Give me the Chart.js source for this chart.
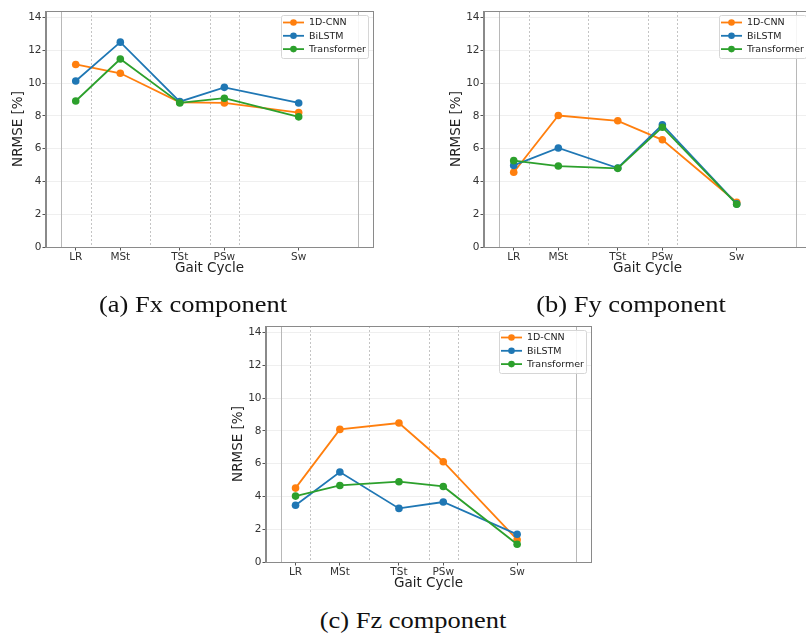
<!DOCTYPE html>
<html>
<head>
<meta charset="utf-8">
<script src="https://cdn.jsdelivr.net/npm/chart.js@4.4.0/dist/chart.umd.min.js"></script>
<style>
  html, body { margin: 0; padding: 0; background: #fff; }
  body { width: 806px; height: 637px; overflow: hidden; position: relative; }
  canvas { position: absolute; }
  .cap {
    position: absolute; font-family: "Liberation Serif", "Times New Roman", serif;
    font-size: 23px; line-height: 23px; color: #111; white-space: nowrap;
    transform: translateX(-50%) scaleX(1.15);
  }
</style>
</head>
<body>
<canvas id="chartFx" width="380" height="285" style="left:0px;top:0px;width:380px;height:285px"></canvas>
<canvas id="chartFy" width="380" height="285" style="left:438px;top:0px;width:380px;height:285px"></canvas>
<canvas id="chartFz" width="378" height="285" style="left:220px;top:315px;width:378px;height:285px"></canvas>
<div class="cap" style="left:193px;top:293px">(a) Fx component</div>
<div class="cap" style="left:631px;top:293px">(b) Fy component</div>
<div class="cap" style="left:413px;top:609px">(c) Fz component</div>
<script>
// gait phases (x in % of gait cycle)
const phaseLabels = ['LR', 'MSt', 'TSt', 'PSw', 'Sw'];
const phaseCenters = [5, 20, 40, 55, 80];
const phaseBounds = [10, 30, 50, 60];
const cycleEnds = [0, 100];
const yTickValues = [0, 2, 4, 6, 8, 10, 12, 14];

const modelNames = ['1D-CNN', 'BiLSTM', 'Transformer'];
const modelColors = ['#ff7f0e', '#1f77b4', '#2ca02c'];

// NRMSE [%] per phase
const fxCnn = [11.14, 10.60, 8.83, 8.79, 8.20];
const fxBilstm = [10.13, 12.50, 8.87, 9.74, 8.79];
const fxTransformer = [8.91, 11.47, 8.79, 9.08, 7.94];

const fyCnn = [4.56, 8.02, 7.70, 6.54, 2.73];
const fyBilstm = [4.98, 6.04, 4.82, 7.46, 2.63];
const fyTransformer = [5.27, 4.94, 4.80, 7.31, 2.61];

const fzCnn = [4.51, 8.09, 8.48, 6.12, 1.36];
const fzBilstm = [3.46, 5.49, 3.27, 3.66, 1.69];
const fzTransformer = [4.02, 4.67, 4.90, 4.61, 1.08];

const FONT = '"DejaVu Sans", sans-serif';

// vertical phase lines (solid at cycle ends, dotted at phase boundaries)
const phaseLinesPlugin = {
    id: 'phaseLines',
    beforeDatasetsDraw(chart) {
        const ctx = chart.ctx, area = chart.chartArea, xs = chart.scales.x;
        ctx.save();
        ctx.lineWidth = 1;
        ctx.strokeStyle = '#c4c4c4';
        ctx.setLineDash([2, 2]);
        phaseBounds.forEach(v => {
            const px = Math.round(xs.getPixelForValue(v)) + 0.5;
            ctx.beginPath(); ctx.moveTo(px, area.top); ctx.lineTo(px, area.bottom); ctx.stroke();
        });
        ctx.setLineDash([]);
        ctx.strokeStyle = '#b8b8b8';
        cycleEnds.forEach(v => {
            const px = Math.round(xs.getPixelForValue(v)) + 0.5;
            ctx.beginPath(); ctx.moveTo(px, area.top); ctx.lineTo(px, area.bottom); ctx.stroke();
        });
        ctx.restore();
    }
};

// frame + legend box in upper right, like matplotlib
const frameLegendPlugin = {
    id: 'frameLegend',
    afterDraw(chart) {
        const ctx = chart.ctx, a = chart.chartArea;
        ctx.save();
        ctx.strokeStyle = '#8a8a8a';
        ctx.lineWidth = 1;
        ctx.strokeRect(Math.round(a.left) - 0.5, Math.round(a.top) + 0.5,
                       Math.round(a.right - a.left) + 1, Math.round(a.bottom - a.top));

        // legend
        const bx = a.right - 92, by = a.top + 4, bw = 87, bh = 43;
        ctx.fillStyle = 'rgba(255,255,255,0.85)';
        ctx.strokeStyle = '#d6d6d6';
        ctx.beginPath();
        ctx.roundRect(bx + 0.5, by + 0.5, bw, bh, 2);
        ctx.fill(); ctx.stroke();
        ctx.font = '9.5px ' + FONT;
        ctx.textBaseline = 'middle';
        chart.data.datasets.forEach((ds, i) => {
            const y = by + 7.5 + i * 13.3;
            ctx.strokeStyle = ds.borderColor;
            ctx.lineWidth = 1.8;
            ctx.beginPath(); ctx.moveTo(bx + 2, y); ctx.lineTo(bx + 23, y); ctx.stroke();
            ctx.fillStyle = ds.borderColor;
            ctx.beginPath(); ctx.arc(bx + 12.5, y, 3.3, 0, Math.PI * 2); ctx.fill();
            ctx.fillStyle = '#222';
            ctx.fillText(ds.label, bx + 28, y + 0.5);
        });
        ctx.restore();
    }
};

function makeDataset(i, values) {
    return {
        label: modelNames[i],
        data: values.map((v, k) => ({ x: phaseCenters[k], y: v })),
        borderColor: modelColors[i],
        backgroundColor: modelColors[i],
        pointBackgroundColor: modelColors[i],
        pointBorderWidth: 0,
        pointRadius: 3.8,
        borderWidth: 1.8,
        tension: 0,
        order: 3 - i
    };
}

function makeChart(canvasId, cnn, bilstm, transformer) {
    const ctx = document.getElementById(canvasId).getContext('2d');
    return new Chart(ctx, {
        type: 'line',
        data: { datasets: [makeDataset(0, cnn), makeDataset(1, bilstm), makeDataset(2, transformer)] },
        plugins: [phaseLinesPlugin, frameLegendPlugin],
        options: {
            responsive: false,
            animation: false,
            devicePixelRatio: 1,
            layout: { padding: { top: 11, right: 7, left: 0, bottom: 0 } },
            plugins: { legend: { display: false }, tooltip: { enabled: false } },
            scales: {
                x: {
                    type: 'linear', min: -5, max: 105,
                    afterBuildTicks: s => { s.ticks = phaseCenters.map(v => ({ value: v })); },
                    afterFit: s => { s.height = 38; },
                    ticks: {
                        callback: v => phaseLabels[phaseCenters.indexOf(v)],
                        font: { family: FONT, size: 10.5 }, color: '#333',
                        padding: 0, maxRotation: 0, autoSkip: false
                    },
                    grid: { drawOnChartArea: false, drawTicks: true, tickLength: 3.5, tickColor: '#555' },
                    border: { color: '#8a8a8a' },
                    title: { display: true, text: 'Gait Cycle', font: { family: FONT, size: 13.5 },
                             color: '#222', padding: { top: 0, bottom: 8 } }
                },
                y: {
                    min: 0, max: 14.4,
                    afterBuildTicks: s => { s.ticks = yTickValues.map(v => ({ value: v })); },
                    afterFit: s => { s.width = 46; },
                    ticks: { font: { family: FONT, size: 10.5 }, color: '#333', padding: 1 },
                    grid: { color: '#efefef', lineWidth: 1, drawTicks: true, tickLength: 3.5, tickColor: '#555' },
                    border: { color: '#8a8a8a' },
                    title: { display: true, text: 'NRMSE [%]', font: { family: FONT, size: 13.5 },
                             color: '#222', padding: { top: 10, bottom: 0 } }
                }
            }
        }
    });
}

makeChart('chartFx', fxCnn, fxBilstm, fxTransformer);
makeChart('chartFy', fyCnn, fyBilstm, fyTransformer);
makeChart('chartFz', fzCnn, fzBilstm, fzTransformer);
</script>
</body>
</html>
